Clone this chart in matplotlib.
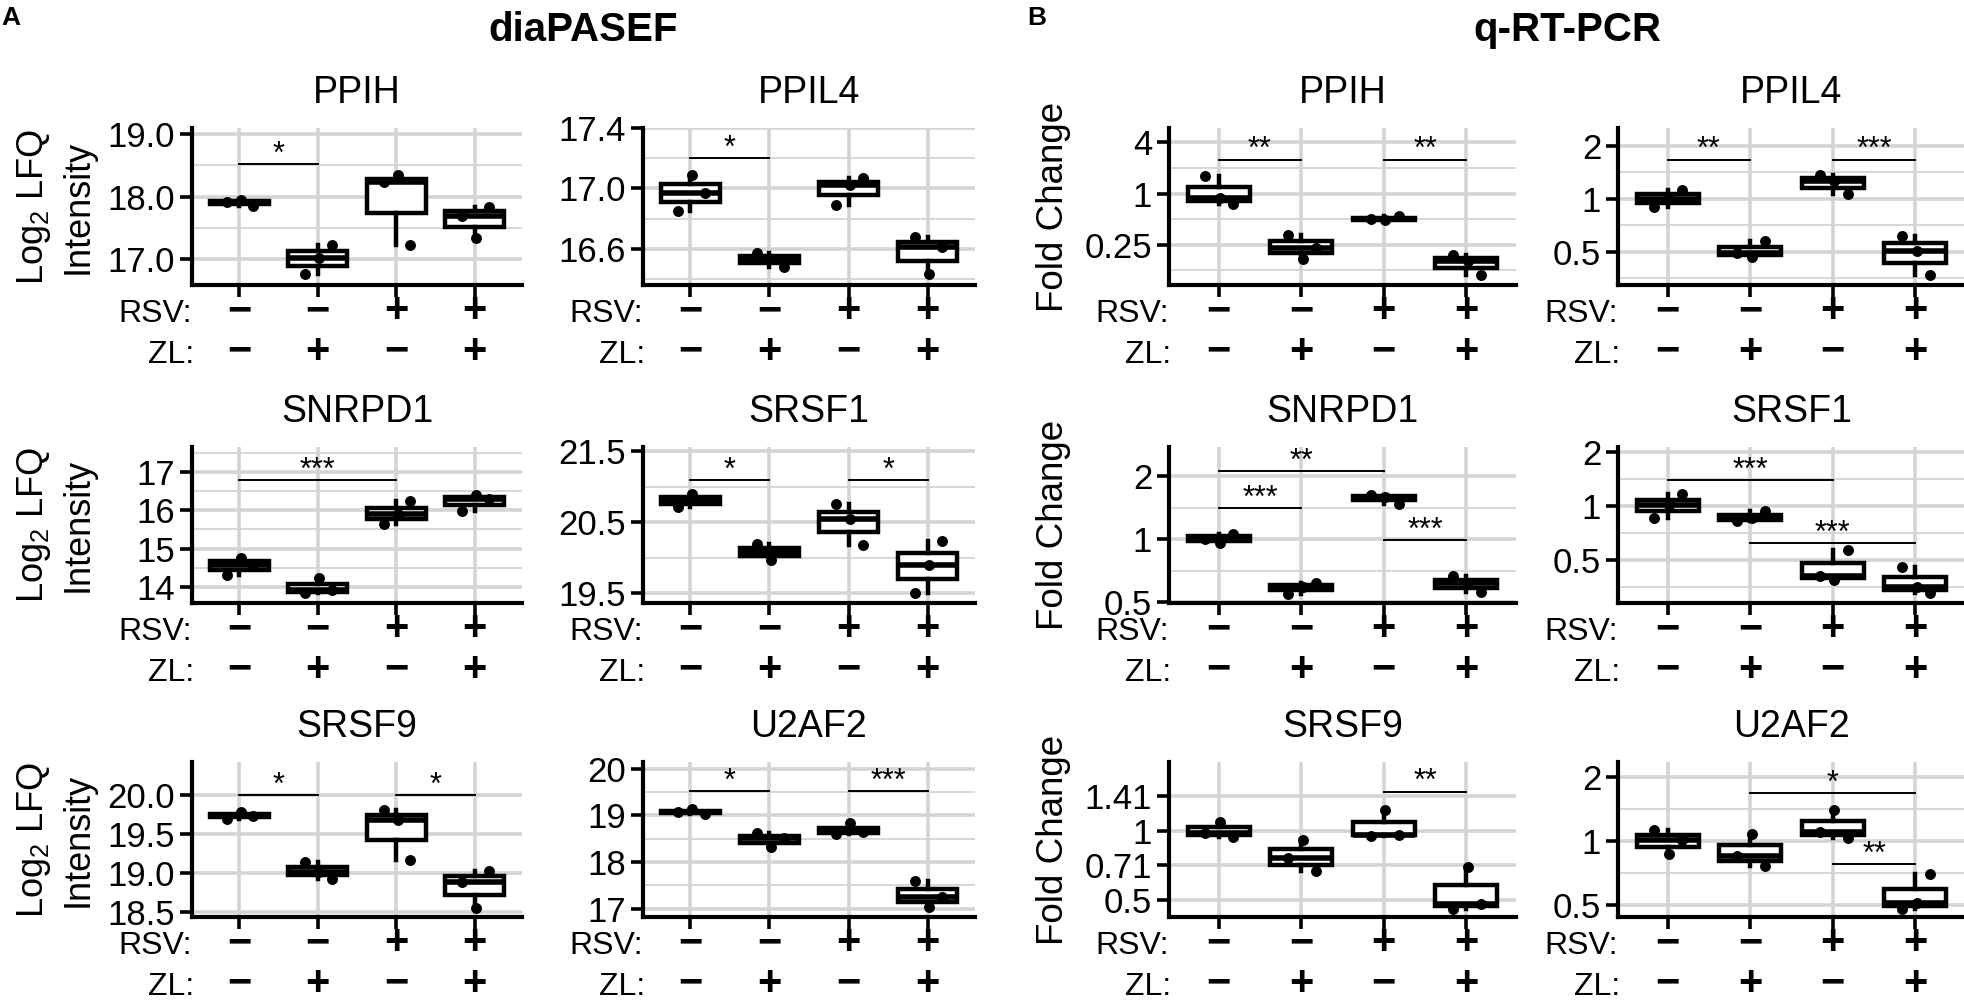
import numpy as np
import matplotlib.pyplot as plt
from matplotlib import cbook
from matplotlib.ticker import NullFormatter

plt.rcParams['font.family'] = ['Liberation Sans', 'DejaVu Sans']
plt.rcParams['mathtext.fontset'] = 'custom'
plt.rcParams['mathtext.rm'] = 'Liberation Sans'
plt.rcParams['mathtext.it'] = 'Liberation Sans:italic'
plt.rcParams['mathtext.bf'] = 'Liberation Sans:bold'

W, H = 1965, 1002
MINUS = '\u2212'

# condition labels under each box
rsv_row = [MINUS, MINUS, '+', '+']
zl_row = [MINUS, '+', MINUS, '+']

# diaPASEF - Log2 LFQ intensity, 3 replicates per condition
lfq_ppih = [[17.92, 17.95, 17.85], [16.75, 17.02, 17.22], [18.23, 18.34, 17.23], [17.69, 17.33, 17.83]]
lfq_ppil4 = [[16.85, 17.09, 16.97], [16.57, 16.53, 16.48], [16.89, 17.02, 17.07], [16.68, 16.43, 16.61]]
lfq_snrpd1 = [[14.30, 14.76, 14.57], [13.83, 14.24, 13.93], [15.63, 15.90, 16.24], [15.98, 16.40, 16.30]]
lfq_srsf1 = [[20.71, 20.90, 20.81], [20.19, 19.97, 20.08], [20.75, 20.54, 20.18], [19.50, 19.89, 20.24]]
lfq_srsf9 = [[19.70, 19.79, 19.74], [19.14, 19.02, 18.93], [19.82, 19.68, 19.17], [18.89, 18.56, 19.03]]
lfq_u2af2 = [[19.07, 19.13, 19.03], [18.61, 18.31, 18.52], [18.59, 18.84, 18.63], [17.59, 17.03, 17.25]]

# q-RT-PCR - fold change
fc_ppih = [[1.62, 0.89, 0.76], [0.33, 0.171, 0.23], [0.50, 0.49, 0.545], [0.192, 0.16, 0.110]]
fc_ppil4 = [[0.90, 1.0, 1.12], [0.493, 0.466, 0.578], [1.366, 1.26, 1.064], [0.611, 0.507, 0.369]]
fc_snrpd1 = [[1.0, 0.96, 1.065], [0.547, 0.59, 0.62], [1.637, 1.60, 1.474], [0.664, 0.616, 0.559]]
fc_srsf1 = [[0.858, 1.014, 1.165], [0.829, 0.853, 0.939], [0.406, 0.384, 0.566], [0.457, 0.354, 0.325]]
fc_srsf9 = [[0.979, 1.094, 0.933], [0.758, 0.914, 0.664], [0.945, 1.231, 0.959], [0.454, 0.697, 0.48]]
fc_u2af2 = [[1.129, 0.865, 1.007], [0.846, 1.072, 0.758], [1.10, 1.404, 1.035], [0.48, 0.51, 0.697]]

# significance brackets: (group a, group b, height, label)
lfq_ppih_sig = [(1, 2, 18.52, '*')]
lfq_ppil4_sig = [(1, 2, 17.20, '*')]
lfq_snrpd1_sig = [(1, 3, 16.78, '***')]
lfq_srsf1_sig = [(1, 2, 21.09, '*'), (3, 4, 21.09, '*')]
lfq_srsf9_sig = [(1, 2, 20.0, '*'), (3, 4, 20.0, '*')]
lfq_u2af2_sig = [(1, 2, 19.51, '*'), (3, 4, 19.51, '***')]
fc_ppih_sig = [(1, 2, 2.5, '**'), (3, 4, 2.5, '**')]
fc_ppil4_sig = [(1, 2, 1.67, '**'), (3, 4, 1.67, '***')]
fc_snrpd1_sig = [(1, 3, 2.12, '**'), (1, 2, 1.41, '***'), (3, 4, 0.99, '***')]
fc_srsf1_sig = [(1, 3, 1.40, '***'), (2, 4, 0.62, '***')]
fc_srsf9_sig = [(3, 4, 1.48, '**')]
fc_u2af2_sig = [(2, 4, 1.68, '*'), (3, 4, 0.776, '**')]

positions = [1, 2, 3, 4]
jitter = [-0.16, 0.02, 0.18]

GRID = '#d4d4d4'
LW = 3.2

# panel placement in pixels
cols_px = [(192, 522), (643, 975), (1169, 1516), (1618, 1965)]
rows_px = [(128, 285), (447, 603), (762, 917)]

r2 = 2 ** 0.5
panels = [
    (0, 0, 'PPIH', lfq_ppih, lfq_ppih_sig, False, (16.58, 19.10), [17, 18, 19], ['17.0', '18.0', '19.0'], [17.5, 18.5]),
    (1, 0, 'PPIL4', lfq_ppil4, lfq_ppil4_sig, False, (16.36, 17.40), [16.6, 17.0, 17.4], ['16.6', '17.0', '17.4'], [16.4, 16.8, 17.2]),
    (0, 1, 'SNRPD1', lfq_snrpd1, lfq_snrpd1_sig, False, (13.58, 17.65), [14, 15, 16, 17], ['14', '15', '16', '17'], [14.5, 15.5, 16.5, 17.5]),
    (1, 1, 'SRSF1', lfq_srsf1, lfq_srsf1_sig, False, (19.36, 21.56), [19.5, 20.5, 21.5], ['19.5', '20.5', '21.5'], [20.0, 21.0]),
    (0, 2, 'SRSF9', lfq_srsf9, lfq_srsf9_sig, False, (18.44, 20.43), [18.5, 19.0, 19.5, 20.0], ['18.5', '19.0', '19.5', '20.0'], []),
    (1, 2, 'U2AF2', lfq_u2af2, lfq_u2af2_sig, False, (16.82, 20.14), [17, 18, 19, 20], ['17', '18', '19', '20'], [17.5, 18.5, 19.5]),
    (2, 0, 'PPIH', fc_ppih, fc_ppih_sig, True, (0.0842, 5.90), [0.25, 1, 4], ['0.25', '1', '4'], [0.125, 0.5, 2]),
    (3, 0, 'PPIL4', fc_ppil4, fc_ppil4_sig, True, (0.323, 2.53), [0.5, 1, 2], ['0.5', '1', '2'], [0.5 / r2, 1 / r2, r2]),
    (2, 1, 'SNRPD1', fc_snrpd1, fc_snrpd1_sig, True, (0.4945, 2.77), [0.5, 1, 2], ['0.5', '1', '2'], [1 / r2, r2]),
    (3, 1, 'SRSF1', fc_srsf1, fc_srsf1_sig, True, (0.287, 2.14), [0.5, 1, 2], ['0.5', '1', '2'], [0.5 / r2, 1 / r2, r2]),
    (2, 2, 'SRSF9', fc_srsf9, fc_srsf9_sig, True, (0.420, 1.99), [0.5, 1 / r2, 1, r2], ['0.5', '0.71', '1', '1.41'], []),
    (3, 2, 'U2AF2', fc_u2af2, fc_u2af2_sig, True, (0.438, 2.35), [0.5, 1, 2], ['0.5', '1', '2'], [1 / r2, r2]),
]


def box_stats(vals, log):
    # stats on the plotted scale (log2 for fold change), like ggplot
    v = np.log2(vals) if log else np.asarray(vals, float)
    st = cbook.boxplot_stats(v)[0]
    if log:
        for k in ('med', 'q1', 'q3', 'whislo', 'whishi', 'mean', 'cilo', 'cihi'):
            st[k] = 2.0 ** st[k]
        st['fliers'] = 2.0 ** np.asarray(st['fliers'])
    return st


def fx(x):
    return x / W


def fy(y):
    return 1 - y / H


fig = plt.figure(figsize=(W / 100, H / 100), dpi=100)

for col, row, title, vals, sig, log, ylim, ticks, labels, minor in panels:
    x0, x1 = cols_px[col]
    y0, y1 = rows_px[row]
    ax = fig.add_axes([fx(x0), fy(y1), (x1 - x0) / W, (y1 - y0) / H])
    if log:
        ax.set_yscale('log', base=2)

    stats = [box_stats(v, log) for v in vals]
    ax.bxp(stats, positions=positions, widths=0.75, patch_artist=True,
           showfliers=False, showcaps=False, manage_ticks=False, zorder=2,
           boxprops=dict(facecolor='white', edgecolor='black', linewidth=LW),
           whiskerprops=dict(color='black', linewidth=LW),
           medianprops=dict(color='black', linewidth=4.0))
    for p, v in zip(positions, vals):
        ax.scatter([p + j for j in jitter], v, s=62, color='black', linewidths=0, zorder=4)

    for a, b, y, lab in sig:
        ax.plot([a, b], [y, y], color='black', lw=1.4, zorder=5)
        ax.annotate(lab, ((a + b) / 2, y), xytext=(0, 1), textcoords='offset points',
                    ha='center', va='baseline', fontsize=22)

    ax.set_xlim(0.4, 4.6)
    ax.set_ylim(ylim)
    ax.set_xticks(positions)
    ax.set_xticklabels([])
    ax.set_yticks(ticks)
    ax.set_yticklabels(labels)
    ax.set_yticks(minor, minor=True)
    ax.yaxis.set_minor_formatter(NullFormatter())

    ax.set_axisbelow(True)
    ax.grid(True, which='major', color=GRID, lw=2.6)
    ax.grid(True, which='minor', axis='y', color=GRID, lw=1.3)
    ax.tick_params(which='major', length=8.5, width=2.6, color='black', labelsize=25, pad=3.6)
    ax.tick_params(which='minor', length=0)
    for s in ['top', 'right']:
        ax.spines[s].set_visible(False)
    for s in ['left', 'bottom']:
        ax.spines[s].set_linewidth(3.0)

    ax.annotate(title, (0.5, 1), xycoords='axes fraction', xytext=(0, 18),
                textcoords='offset points', ha='center', va='baseline', fontsize=27)

    # RSV / ZL condition rows
    for name, signs, off, dx in [('RSV:', rsv_row, -26.6, 0), ('ZL:', zl_row, -56, 1.5)]:
        ax.annotate(name, (0, 0), xycoords='axes fraction', xytext=(dx, off),
                    textcoords='offset points', ha='right', va='baseline', fontsize=23)
        for p, s in zip(positions, signs):
            ax.annotate(s, (p, 0), xycoords=('data', 'axes fraction'), xytext=(0, off),
                        textcoords='offset points', ha='center', va='baseline',
                        fontsize=30, fontweight='bold')

    # y axis titles
    yc = (y0 + y1) / 2
    if col == 0:
        fig.text(fx(43), fy(yc), r'Log$_\mathregular{2}$ LFQ', rotation=90, rotation_mode='anchor',
                 ha='center', va='baseline', fontsize=26)
        fig.text(fx(88), fy(yc), 'Intensity', rotation=90, rotation_mode='anchor',
                 ha='center', va='baseline', fontsize=26)
    elif col == 2:
        fig.text(fx(1063), fy(yc), 'Fold Change', rotation=90, rotation_mode='anchor',
                 ha='center', va='baseline', fontsize=26.5)

# section headers
fig.text(fx(1), fy(25), 'A', fontsize=19, fontweight='bold', ha='left', va='baseline')
fig.text(fx(1027), fy(25), 'B', fontsize=19, fontweight='bold', ha='left', va='baseline')
fig.text(fx(583), fy(41), 'diaPASEF', fontsize=29, fontweight='bold', ha='center', va='baseline')
fig.text(fx(1567), fy(41), 'q-RT-PCR', fontsize=29, fontweight='bold', ha='center', va='baseline')

fig.savefig('out.png', dpi=100)
